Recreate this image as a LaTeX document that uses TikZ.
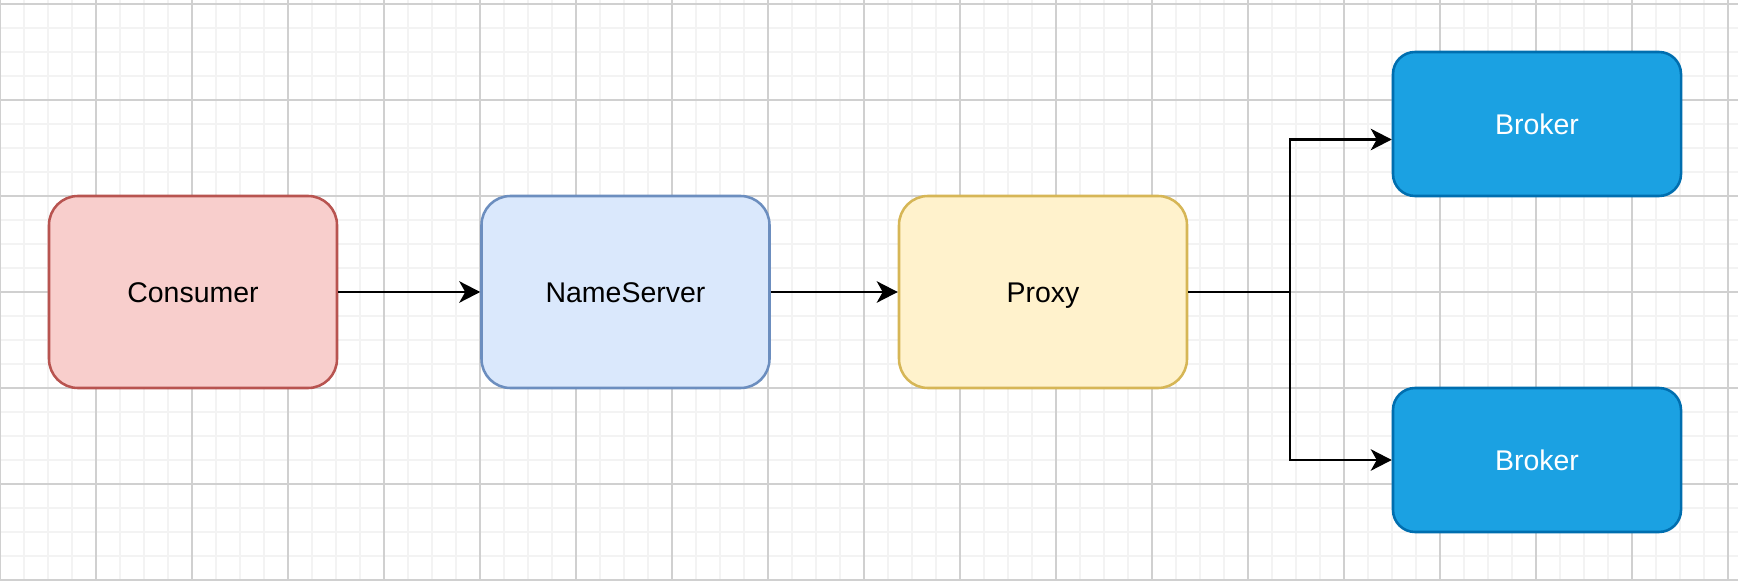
\documentclass[tikz,border=0pt]{standalone}
\usepackage{fontspec}
\setmainfont{Liberation Sans}
\usetikzlibrary{arrows.meta}
\definecolor{gridminor}{HTML}{F3F3F3}
\definecolor{gridmajor}{HTML}{D0D0D0}
\definecolor{consumerfill}{HTML}{F8CECC}
\definecolor{consumerline}{HTML}{B85450}
\definecolor{nsfill}{HTML}{DAE8FC}
\definecolor{nsline}{HTML}{6C8EBF}
\definecolor{proxyfill}{HTML}{FFF2CC}
\definecolor{proxyline}{HTML}{D6B656}
\definecolor{brokerfill}{HTML}{1BA1E2}
\definecolor{brokerline}{HTML}{006EAF}
\begin{document}
\begin{tikzpicture}[font=\fontsize{16.2}{19}\selectfont,
  box/.style={draw, line width=1.45pt, rounded corners=0.58cm, minimum width=5.76cm, minimum height=3.84cm, inner sep=0pt, text height=11.6pt, text depth=0pt},
  brokerbox/.style={box, fill=brokerfill, draw=brokerline, text=white, rounded corners=0.44cm, minimum height=2.88cm},
  arr/.style={-{Stealth[length=0.42cm,width=0.43cm,inset=0.12cm]}, line width=1.3pt}]
\useasboundingbox (0,0) rectangle (34.76,11.6);
\draw[gridminor, line width=0.9pt, step=0.48] (0,0) grid (34.76,11.6);
\draw[gridmajor, line width=0.6pt, step=1.92] (0,0) grid (34.76,11.6);
\node[box, fill=consumerfill, draw=consumerline] (consumer) at (3.86,5.76) {Consumer};
\node[box, fill=nsfill, draw=nsline] (nameserver) at (12.51,5.76) {NameServer};
\node[box, fill=proxyfill, draw=proxyline] (proxy) at (20.86,5.76) {Proxy};
\node[brokerbox] (brokerA) at (30.74,9.12) {Broker};
\node[brokerbox] (brokerB) at (30.74,2.40) {Broker};
\coordinate (split) at (25.80,5.76);
\draw[arr] (consumer) -- (nameserver);
\draw[arr] (nameserver) -- (proxy);
\draw[arr] (proxy.east) -- (split) |- ([yshift=-0.31cm]brokerA.west);
\draw[arr] (proxy.east) -- (split) |- (brokerB.west);
\end{tikzpicture}
\end{document}
